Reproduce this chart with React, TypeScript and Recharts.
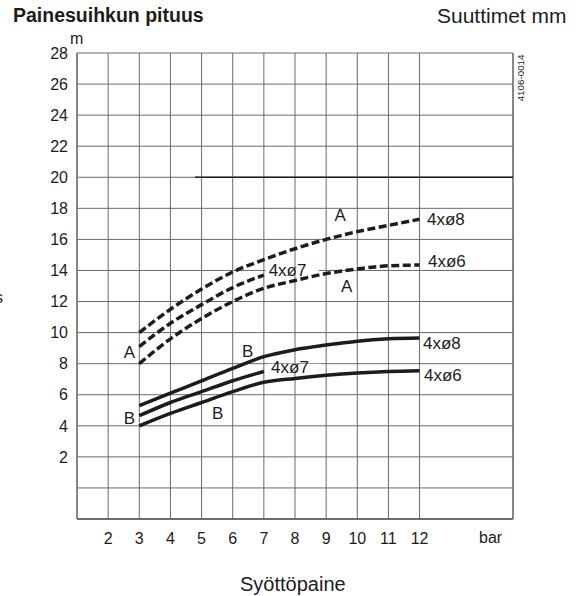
import React from 'react';
import { LineChart, Line, XAxis, YAxis, CartesianGrid, ReferenceLine, ReferenceDot } from 'recharts';

// Syöttöpaine (bar)
const pressureLong = [3, 4, 5, 6, 7, 8, 9, 10, 11, 12];
const pressureShort = [3, 4, 5, 6, 7];

// Painesuihkun pituus (m), A = dashed, B = solid
const jetA8 = [10.0, 11.5, 12.8, 13.9, 14.7, 15.4, 16.0, 16.5, 16.9, 17.3];
const jetA7 = [9.1, 10.6, 11.8, 12.9, 13.7];
const jetA6 = [8.0, 9.6, 10.9, 12.0, 12.85, 13.35, 13.8, 14.1, 14.3, 14.35];
const jetB8 = [5.3, 6.1, 6.9, 7.7, 8.45, 8.9, 9.2, 9.45, 9.6, 9.65];
const jetB7 = [4.65, 5.5, 6.2, 6.9, 7.5];
const jetB6 = [4.0, 4.8, 5.5, 6.2, 6.8, 7.05, 7.25, 7.4, 7.5, 7.55];

const xTicks = [2, 3, 4, 5, 6, 7, 8, 9, 10, 11, 12];
const yTicks = [0, 2, 4, 6, 8, 10, 12, 14, 16, 18, 20, 22, 24, 26, 28];

const curveLabels = [
  { text: 'A', x: 9.45, y: 17.57, anchor: 'middle' },
  { text: '4xø8', x: 12.24, y: 17.3, anchor: 'start' },
  { text: '4xø7', x: 7.76, y: 14.03, anchor: 'middle', box: true },
  { text: '4xø6', x: 12.27, y: 14.6, anchor: 'start' },
  { text: 'A', x: 9.66, y: 13.0, anchor: 'middle' },
  { text: 'A', x: 2.68, y: 8.77, anchor: 'middle' },
  { text: 'B', x: 6.48, y: 8.81, anchor: 'middle' },
  { text: '4xø7', x: 7.84, y: 7.8, anchor: 'middle', box: true },
  { text: '4xø8', x: 12.11, y: 9.36, anchor: 'start' },
  { text: '4xø6', x: 12.14, y: 7.27, anchor: 'start' },
  { text: 'B', x: 2.68, y: 4.48, anchor: 'middle' },
  { text: 'B', x: 5.52, y: 4.84, anchor: 'middle' },
];

const toPoints = (xs: number[], ys: number[]) => xs.map((x, i) => ({ x, y: ys[i] }));

const FONT = '"Liberation Sans", Arial, Helvetica, sans-serif';
const INK = '#1c1c1c';
const GRID = '#6a6a6a';

const series = [
  { key: 'a8', data: toPoints(pressureLong, jetA8), dashed: true },
  { key: 'a7', data: toPoints(pressureShort, jetA7), dashed: true },
  { key: 'a6', data: toPoints(pressureLong, jetA6), dashed: true },
  { key: 'b8', data: toPoints(pressureLong, jetB8), dashed: false },
  { key: 'b7', data: toPoints(pressureShort, jetB7), dashed: false },
  { key: 'b6', data: toPoints(pressureLong, jetB6), dashed: false },
];

// label with an optional white strip that knocks out the gridline behind it
const Tag = ({ cx, cy, text, anchor, box }: any) => (
  <g>
    {box && <rect x={cx - 22} y={cy - 3} width={53} height={6} fill="#fff" />}
    <text x={cx} y={cy} dy="0.36em" textAnchor={anchor} fontSize={17} fontFamily={FONT} fill={INK}>
      {text}
    </text>
  </g>
);

const XTick = ({ x, y, payload }: any) => (
  <text x={x} y={y + 23} textAnchor="middle" fontSize={16} fontFamily={FONT} fill={INK}>
    {payload.value}
  </text>
);

const YTick = ({ x, y, payload }: any) =>
  payload.value === 0 ? null : (
    <text x={x - 7} y={y + 5.7} textAnchor="end" fontSize={16} fontFamily={FONT} fill={INK}>
      {payload.value}
    </text>
  );

const abs = (left: number, top: number, size: number, extra: React.CSSProperties = {}): React.CSSProperties => ({
  position: 'absolute',
  left,
  top,
  fontSize: size,
  fontFamily: FONT,
  color: INK,
  lineHeight: 1,
  whiteSpace: 'nowrap',
  ...extra,
});

export default function App() {
  return (
    <div style={{ position: 'absolute', left: 0, top: 0, width: 586, height: 596, background: '#fff', overflow: 'hidden' }}>
      <LineChart width={586} height={596} margin={{ top: 53, right: 73, bottom: 37, left: 37 }}>
        <CartesianGrid stroke={GRID} strokeWidth={1} />
        <XAxis
          type="number"
          dataKey="x"
          domain={[1, 15]}
          ticks={xTicks}
          allowDataOverflow
          height={40}
          tickSize={0}
          tickLine={false}
          tick={<XTick />}
          axisLine={{ stroke: '#555', strokeWidth: 1.5 }}
        />
        <YAxis
          type="number"
          dataKey="y"
          domain={[-2, 28]}
          ticks={yTicks}
          allowDataOverflow
          width={40}
          tickSize={0}
          tickLine={false}
          tick={<YTick />}
          axisLine={{ stroke: '#777', strokeWidth: 1.5 }}
        />
        <ReferenceLine x={15} stroke="#777" strokeWidth={1.5} />
        <ReferenceLine
          segment={[
            { x: 4.79, y: 20 },
            { x: 15, y: 20 },
          ]}
          stroke={INK}
          strokeWidth={1.5}
        />
        {series.map((s) => (
          <Line
            key={s.key}
            data={s.data}
            dataKey="y"
            type="monotone"
            stroke={INK}
            strokeWidth={3.5}
            strokeDasharray={s.dashed ? '8 3.5' : undefined}
            dot={false}
            activeDot={false}
            isAnimationActive={false}
          />
        ))}
        {curveLabels.map((l, i) => (
          <ReferenceDot
            key={i}
            x={l.x}
            y={l.y}
            r={0}
            shape={(p: any) => <Tag cx={p.cx} cy={p.cy} text={l.text} anchor={l.anchor} box={l.box} />}
          />
        ))}
      </LineChart>

      <div style={abs(13, 6, 19.5, { fontWeight: 'bold' })}>Painesuihkun pituus</div>
      <div style={abs(437, 5, 21)}>Suuttimet mm</div>
      <div style={abs(70, 31, 16)}>m</div>
      <div style={abs(479, 530, 16)}>bar</div>
      <div style={abs(-5, 290, 16)}>s</div>
      <div style={abs(240, 574, 20)}>Syöttöpaine</div>
      <div
        style={abs(497, 73, 9.8, {
          transform: 'rotate(-90deg)',
          transformOrigin: 'center',
          width: 48,
          textAlign: 'center',
        })}
      >
        4106-0014
      </div>
    </div>
  );
}
